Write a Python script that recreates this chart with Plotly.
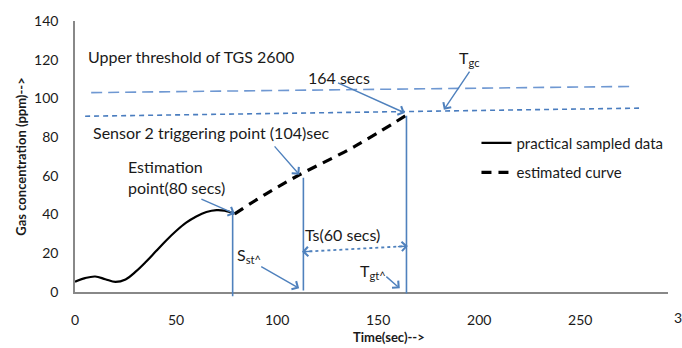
import plotly.graph_objects as go

# ---------------- data ----------------
sampled_t = [0, 5, 10, 15, 20, 25, 30, 35, 40, 45, 50, 55, 60, 65, 70, 74, 79]
sampled_c = [5.3, 7.2, 8.0, 6.6, 5.2, 6.5, 10.5, 15.5, 21.0, 26.5, 31.5, 35.8, 39.0, 41.3, 42.3, 42.0, 40.4]

est_t = [79, 95, 111, 138, 165]
est_c = [40.4, 51.0, 60.5, 75.0, 92.0]

upper_thr_t = [8, 275]
upper_thr_c = [103.0, 106.2]
lower_thr_t = [5, 280]
lower_thr_c = [90.8, 95.0]

event_t = [78, 113, 164]
event_top = [40.4, 59.0, 91.0]
event_bottom = [-3.0, 0.0, -1.5]

x_ticks = [0, 50, 100, 150, 200, 250]
y_ticks = [0, 20, 40, 60, 80, 100, 120, 140]

FONT = "Lato"
BLUE = "#4f81bd"
TXT = "#1a1a1a"

fig = go.Figure()

fig.add_trace(go.Scatter(x=upper_thr_t, y=upper_thr_c, mode="lines", showlegend=False,
                         line=dict(color="#6f98d2", width=1.6, dash="11px,6px")))
fig.add_trace(go.Scatter(x=lower_thr_t, y=lower_thr_c, mode="lines", showlegend=False,
                         line=dict(color="#4a7dbf", width=1.6, dash="5px,4px")))

fig.add_trace(go.Scatter(x=sampled_t, y=sampled_c, mode="lines", name="practical sampled data",
                         legendgroup="a", line=dict(color="black", width=2.2, shape="spline")))
fig.add_trace(go.Scatter(x=est_t, y=est_c, mode="lines", name="estimated curve",
                         legendgroup="b", line=dict(color="black", width=3.2, dash="10px,7px", shape="spline")))

# Ts dotted span
fig.add_trace(go.Scatter(x=[event_t[1], event_t[2]], y=[20.8, 23.7], mode="lines", showlegend=False,
                         line=dict(color=BLUE, width=1.8, dash="dot")))

annotations = []

# vertical event lines
for t, top, bot in zip(event_t, event_top, event_bottom):
    annotations.append(dict(x=t, y=top, ax=t, ay=bot, xref="x", yref="y", axref="x", ayref="y",
                            text="", showarrow=True, arrowhead=0, arrowwidth=1.6, arrowcolor=BLUE))

# arrows: (tail_x, tail_y, head_x, head_y)
arrows = [
    (129.4, 108.4, 163.2, 92.5),   # 164 secs
    (195.7, 114.6, 182.5, 94.1),   # Tgc
    (98.1, 76.0, 111.0, 60.6),     # sensor 2
    (61.8, 48.3, 79.1, 40.4),      # estimation point
    (91.4, 13.6, 110.9, 1.9),      # Sst
    (153.3, 8.6, 160.7, 1.9),      # Tgt
    (118.0, 21.1, 112.3, 20.8),    # Ts left head
    (159.0, 23.4, 164.7, 23.7),    # Ts right head
]
for tx, ty, hx, hy in arrows:
    annotations.append(dict(x=hx, y=hy, ax=tx, ay=ty, xref="x", yref="y", axref="x", ayref="y",
                            text="", showarrow=True, arrowhead=4, arrowsize=1.3, arrowwidth=1.4,
                            arrowcolor=BLUE, standoff=0))

def label(x, y, text, size=16, anchor="left"):
    annotations.append(dict(x=x, y=y, xref="x", yref="y", text=text, showarrow=False,
                            xanchor=anchor, yanchor="middle",
                            font=dict(family=FONT, size=size, color=TXT)))

label(5.5, 121.5, "Upper threshold of TGS 2600")
label(130.4, 110.9, "164 secs", anchor="center")
label(8.0, 82.4, "Sensor 2 triggering point (104)sec")
label(195.0, 120.5, "T<sub>gc</sub>", anchor="center")
label(25.0, 65.0, "Estimation")
label(25.0, 54.0, "point(80 secs)")
label(79.0, 19.0, "S<sub>st^</sub>")
label(113.0, 29.6, "Ts(60 secs)")
label(140.0, 10.5, "T<sub>gt^</sub>")

# partially visible 300 tick label and x title
annotations.append(dict(x=1.007, y=0, xref="paper", yref="paper", text="300", showarrow=False,
                        xanchor="left", yanchor="top", yshift=-15,
                        font=dict(family=FONT, size=14, color=TXT)))
annotations.append(dict(x=0.53, y=-0.13, xref="paper", yref="paper", text="<b>Time(sec)--></b>",
                        showarrow=False, xanchor="center", yanchor="top",
                        font=dict(family=FONT, size=13, color=TXT)))

fig.update_layout(
    width=682, height=348,
    margin=dict(l=75, r=14, t=13, b=56),
    paper_bgcolor="white", plot_bgcolor="white",
    font=dict(family=FONT, size=14, color=TXT),
    annotations=annotations,
    showlegend=True,
    legend=dict(x=0.677, y=0.61, xanchor="left", yanchor="top", tracegroupgap=7,
                font=dict(family=FONT, size=15, color=TXT), bgcolor="rgba(0,0,0,0)"),
    xaxis=dict(range=[0, 293.4], tickvals=x_ticks, showline=True, linecolor="#888888", linewidth=1.6,
               showgrid=False, zeroline=False, ticks="", ticklabelstandoff=14,
               tickfont=dict(family=FONT, size=14, color=TXT)),
    yaxis=dict(range=[0, 140], tickvals=y_ticks, showline=True, linecolor="#888888", linewidth=1.6,
               showgrid=False, zeroline=False, ticks="", ticklabelstandoff=12,
               tickfont=dict(family=FONT, size=14, color=TXT),
               title=dict(text="<b>Gas concentration (ppm)--></b>", standoff=4,
                          font=dict(family=FONT, size=13, color=TXT))),
)

fig.write_html("out.html")
